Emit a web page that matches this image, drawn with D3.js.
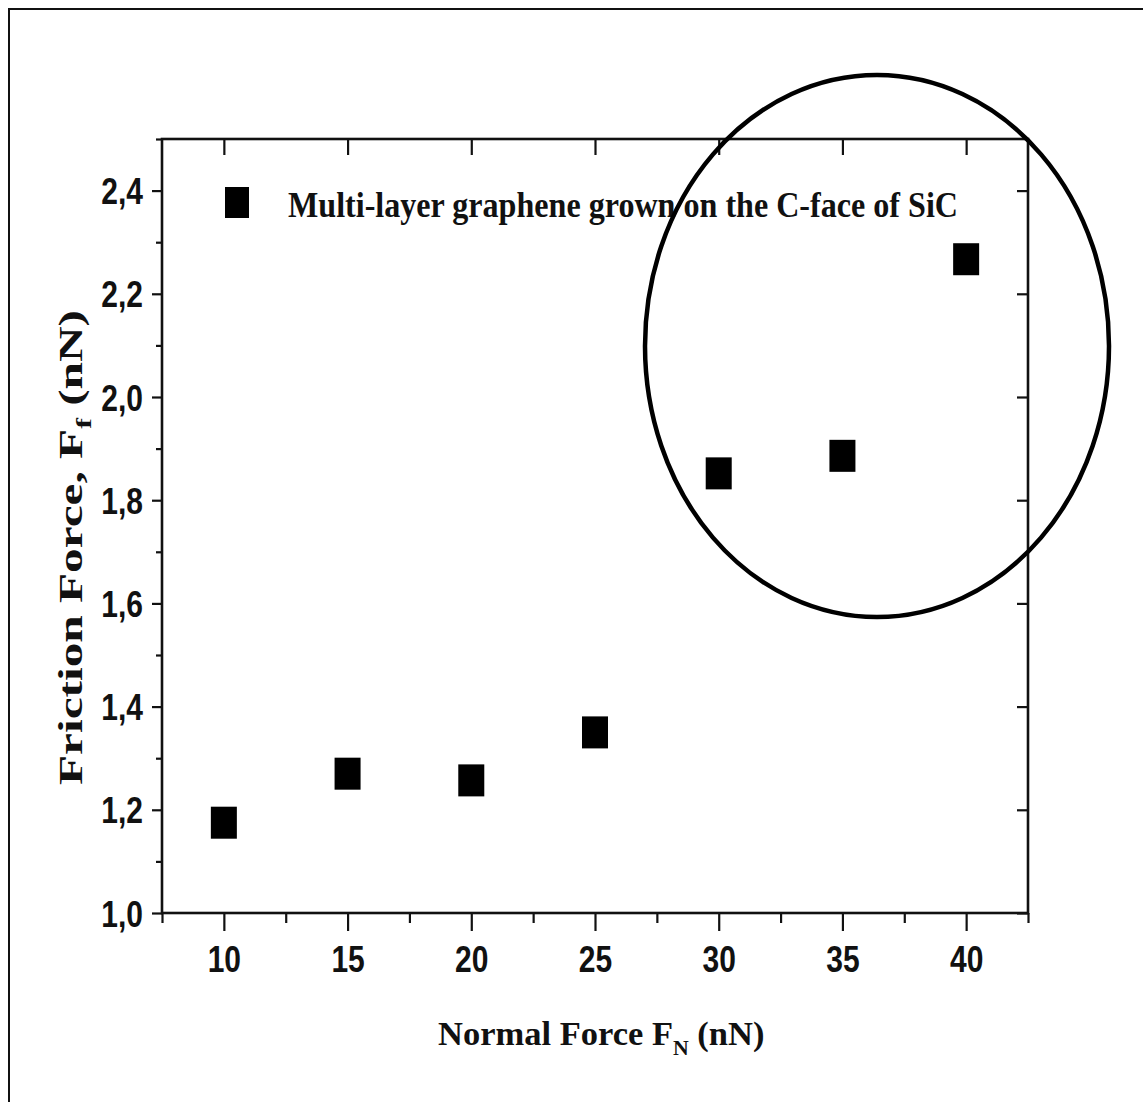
<!DOCTYPE html>
<html lang="en">
<head>
<meta charset="UTF-8">
<title>Friction force vs normal force</title>
<script src="https://d3js.org/d3.v7.min.js"></script>
<style>
  body { margin: 0; background: #fff; overflow: hidden; }
  .tick-label { font-family: "Liberation Sans", Arial, sans-serif; font-weight: bold; font-size: 30px; fill: #111; }
  .serif { font-family: "Liberation Serif", "Times New Roman", serif; font-weight: bold; fill: #111; }
</style>
</head>
<body>
<div id="chart"></div>
<script>
// Normal force (nN) and measured friction force (nN)
const normalForce = [10, 15, 20, 25, 30, 35, 40];
const frictionForce = [1.175, 1.27, 1.257, 1.35, 1.852, 1.886, 2.267];

const xMajor = [10, 15, 20, 25, 30, 35, 40];
const xMinor = [7.5, 12.5, 17.5, 22.5, 27.5, 32.5, 37.5, 42.5];
const yMajor = [1.0, 1.2, 1.4, 1.6, 1.8, 2.0, 2.2, 2.4];
const yMinor = [1.1, 1.3, 1.5, 1.7, 1.9, 2.1, 2.3, 2.5];

const seriesName = "Multi-layer graphene grown on the C-face of SiC";

const W = 1143, H = 1102;
const plot = {left: 162, top: 139, right: 1028, bottom: 913};
const sy = 1.25; // vertical stretch of the lettering

const svg = d3.select("#chart").append("svg")
    .attr("width", W)
    .attr("height", H)
    .style("display", "block");

// frame lines (left and top edges of the figure)
svg.append("path")
    .attr("d", `M9,${H} V9 H${W}`)
    .attr("fill", "none")
    .attr("stroke", "#111")
    .attr("stroke-width", 2);

const x = d3.scaleLinear().domain([7.5, 42.5]).range([plot.left, plot.right]);
const y = d3.scaleLinear().domain([1.0, 2.5]).range([plot.bottom, plot.top]);

const comma = v => d3.format(".1f")(v).replace(".", ",");

// bottom axis: major + minor outward ticks
const bottom = svg.append("g").attr("transform", `translate(0,${plot.bottom})`);
bottom.call(d3.axisBottom(x).tickValues(xMinor).tickSize(10).tickFormat(""));
bottom.append("g").call(d3.axisBottom(x).tickValues(xMajor).tickSize(18).tickFormat(d3.format("d")));
bottom.selectAll(".tick text")
    .attr("class", "tick-label")
    .attr("y", 47).attr("dy", null)
    .attr("transform", `scale(1,${sy})`)
    .attr("fill", null);

// left axis
const left = svg.append("g").attr("transform", `translate(${plot.left},0)`);
left.call(d3.axisLeft(y).tickValues(yMinor).tickSize(6).tickFormat(""));
left.append("g").call(d3.axisLeft(y).tickValues(yMajor).tickSize(10).tickFormat(comma));
left.selectAll(".tick text")
    .attr("class", "tick-label")
    .attr("x", -19).attr("dy", null).attr("y", 10.4)
    .attr("transform", `scale(1,${sy})`)
    .attr("fill", null);

// top and right axes: inward major ticks only
svg.append("g").attr("transform", `translate(0,${plot.top})`)
    .call(d3.axisBottom(x).tickValues(xMajor).tickSize(16).tickFormat(""));
svg.append("g").attr("transform", `translate(${plot.right},0)`)
    .call(d3.axisLeft(y).tickValues(yMajor).tickSize(11).tickFormat(""));

svg.selectAll(".domain").remove();
svg.selectAll(".tick line").attr("stroke", "#111").attr("stroke-width", 2.2);

// plot frame
svg.append("rect")
    .attr("x", plot.left).attr("y", plot.top)
    .attr("width", plot.right - plot.left)
    .attr("height", plot.bottom - plot.top)
    .attr("fill", "none")
    .attr("stroke", "#111")
    .attr("stroke-width", 2.6);

// data points as filled squares
const mw = 26, mh = 32;
svg.append("g").selectAll("rect")
    .data(normalForce.map((n, i) => ({n, f: frictionForce[i]})))
    .join("rect")
    .attr("x", d => x(d.n) - mw / 2)
    .attr("y", d => y(d.f) - mh / 2)
    .attr("width", mw).attr("height", mh)
    .attr("fill", "#000");

// legend
svg.append("rect")
    .attr("x", 225).attr("y", 187)
    .attr("width", 24).attr("height", 31)
    .attr("fill", "#000");
svg.append("g").attr("transform", `translate(288,217) scale(1,${sy})`)
    .append("text")
    .attr("class", "serif")
    .style("font-size", "29px")
    .attr("textLength", 670)
    .attr("lengthAdjust", "spacingAndGlyphs")
    .text(seriesName);

// x axis title
const xt = svg.append("g").attr("transform", "translate(438,1045) scale(1.15,1.12)")
    .append("text")
    .attr("class", "serif")
    .style("font-size", "30px");
xt.append("tspan").text("Normal Force F");
xt.append("tspan").style("font-size", "19px").attr("dy", 9).text("N");
xt.append("tspan").attr("dy", -9).text(" (nN)");

// y axis title
const yt = svg.append("g").attr("transform", "translate(82,785) rotate(-90) scale(1.45,1)")
    .append("text")
    .attr("class", "serif")
    .style("font-size", "34px");
yt.append("tspan").text("Friction Force, F");
yt.append("tspan").style("font-size", "22px").attr("dy", 9).text("f");
yt.append("tspan").attr("dy", -9).text(" (nN)");

// highlighted region
svg.append("ellipse")
    .attr("cx", 877).attr("cy", 346)
    .attr("rx", 232).attr("ry", 271)
    .attr("fill", "none")
    .attr("stroke", "#000")
    .attr("stroke-width", 4.5);
</script>
</body>
</html>
